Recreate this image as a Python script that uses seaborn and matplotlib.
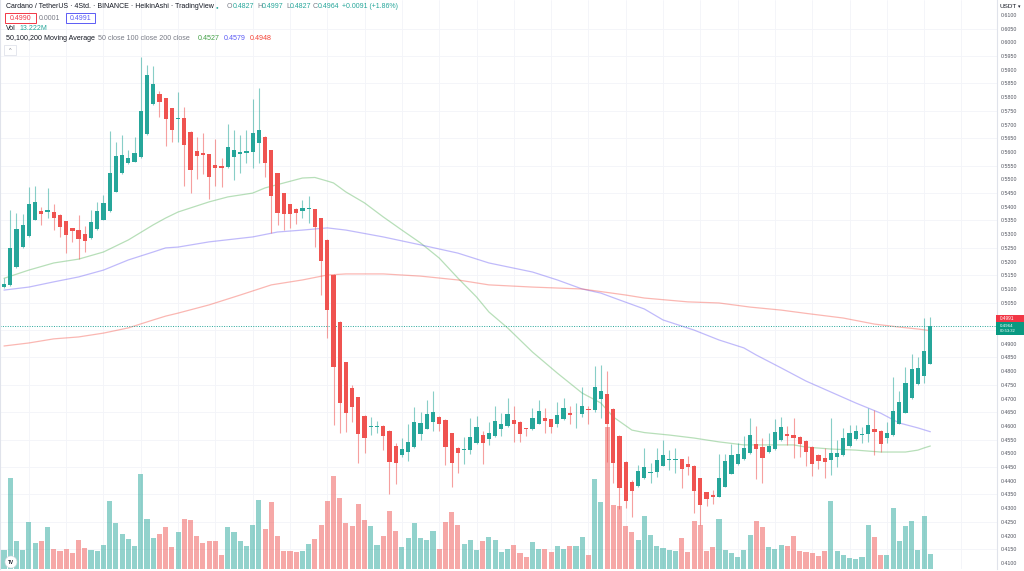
import numpy as np
import matplotlib
matplotlib.use("Agg")
import matplotlib.pyplot as plt
import seaborn as sns
from matplotlib.patches import Rectangle, Ellipse

# ── DATA (Heikin Ashi 4h candles, ADA/USDT) ─────────────────
opens = [0.5106, 0.5114, 0.5181, 0.5252, 0.5293, 0.5352, 0.5384, 0.5380, 0.5382, 0.5370,
         0.5347, 0.5321, 0.5315, 0.5299, 0.5285, 0.5319, 0.5352, 0.5384, 0.5455, 0.5522,
         0.5558, 0.5564, 0.5580, 0.5665, 0.5774, 0.5810, 0.5796, 0.5759, 0.5720, 0.5723,
         0.5674, 0.5605, 0.5595, 0.5592, 0.5551, 0.5549, 0.5544, 0.5580, 0.5594, 0.5597,
         0.5601, 0.5634, 0.5656, 0.5607, 0.5522, 0.5449, 0.5410, 0.5392, 0.5386, 0.5391,
         0.5391, 0.5358, 0.5279, 0.5151, 0.4981, 0.4832, 0.4740, 0.4704, 0.4637, 0.4596,
         0.4597, 0.4600, 0.4582, 0.4527, 0.4494, 0.4506, 0.4522, 0.4569, 0.4590, 0.4616,
         0.4634, 0.4622, 0.4573, 0.4521, 0.4511, 0.4512, 0.4537, 0.4567, 0.4551, 0.4563,
         0.4589, 0.4600, 0.4622, 0.4616, 0.4592, 0.4589, 0.4609, 0.4631, 0.4624, 0.4609,
         0.4625, 0.4646, 0.4642, 0.4644, 0.4661, 0.4658, 0.4698, 0.4715, 0.4662, 0.4564,
         0.4470, 0.4397, 0.4381, 0.4409, 0.4429, 0.4433, 0.4455, 0.4476, 0.4477, 0.4478,
         0.4460, 0.4455, 0.4409, 0.4358, 0.4348, 0.4342, 0.4378, 0.4425, 0.4460, 0.4479,
         0.4500, 0.4533, 0.4524, 0.4504, 0.4516, 0.4549, 0.4569, 0.4567, 0.4561, 0.4546,
         0.4524, 0.4494, 0.4484, 0.4476, 0.4488, 0.4494, 0.4527, 0.4551, 0.4567, 0.4569,
         0.4588, 0.4583, 0.4558, 0.4567, 0.4609, 0.4648, 0.4701, 0.4753, 0.4782, 0.4827]
highs = [0.5139, 0.5388, 0.5376, 0.5373, 0.5473, 0.5476, 0.5398, 0.5470, 0.5412, 0.5372,
         0.5349, 0.5323, 0.5370, 0.5330, 0.5388, 0.5418, 0.5443, 0.5678, 0.5638, 0.5662,
         0.5607, 0.5653, 0.5948, 0.5917, 0.5914, 0.5824, 0.5798, 0.5761, 0.5820, 0.5765,
         0.5676, 0.5653, 0.5668, 0.5594, 0.5646, 0.5577, 0.5702, 0.5680, 0.5662, 0.5680,
         0.5792, 0.5832, 0.5658, 0.5609, 0.5524, 0.5451, 0.5412, 0.5394, 0.5425, 0.5439,
         0.5393, 0.5360, 0.5281, 0.5153, 0.4983, 0.4834, 0.4749, 0.4706, 0.4639, 0.4634,
         0.4619, 0.4602, 0.4584, 0.4537, 0.4557, 0.4607, 0.4670, 0.4652, 0.4695, 0.4729,
         0.4636, 0.4624, 0.4575, 0.4523, 0.4561, 0.4628, 0.4636, 0.4583, 0.4616, 0.4673,
         0.4648, 0.4701, 0.4673, 0.4618, 0.4594, 0.4667, 0.4695, 0.4664, 0.4626, 0.4689,
         0.4701, 0.4673, 0.4683, 0.4741, 0.4673, 0.4819, 0.4822, 0.4801, 0.4664, 0.4566,
         0.4472, 0.4403, 0.4457, 0.4518, 0.4464, 0.4518, 0.4549, 0.4512, 0.4518, 0.4480,
         0.4490, 0.4457, 0.4411, 0.4360, 0.4366, 0.4498, 0.4496, 0.4534, 0.4537, 0.4563,
         0.4631, 0.4600, 0.4555, 0.4575, 0.4624, 0.4634, 0.4600, 0.4631, 0.4563, 0.4548,
         0.4526, 0.4496, 0.4518, 0.4628, 0.4549, 0.4591, 0.4603, 0.4603, 0.4597, 0.4664,
         0.4658, 0.4585, 0.4616, 0.4780, 0.4729, 0.4816, 0.4863, 0.4853, 0.4995, 0.4997]
lows = [0.5102, 0.5110, 0.5178, 0.5250, 0.5291, 0.5350, 0.5333, 0.5358, 0.5315, 0.5291,
        0.5230, 0.5272, 0.5208, 0.5236, 0.5283, 0.5317, 0.5350, 0.5382, 0.5453, 0.5520,
        0.5556, 0.5562, 0.5578, 0.5663, 0.5772, 0.5729, 0.5622, 0.5638, 0.5638, 0.5476,
        0.5449, 0.5500, 0.5519, 0.5427, 0.5476, 0.5473, 0.5542, 0.5498, 0.5522, 0.5558,
        0.5540, 0.5561, 0.5507, 0.5305, 0.5333, 0.5315, 0.5321, 0.5337, 0.5358, 0.5342,
        0.5254, 0.5078, 0.4920, 0.4603, 0.4573, 0.4579, 0.4616, 0.4466, 0.4500, 0.4567,
        0.4573, 0.4512, 0.4352, 0.4388, 0.4488, 0.4473, 0.4520, 0.4549, 0.4588, 0.4583,
        0.4583, 0.4457, 0.4378, 0.4430, 0.4460, 0.4498, 0.4535, 0.4461, 0.4530, 0.4561,
        0.4564, 0.4598, 0.4543, 0.4543, 0.4563, 0.4587, 0.4607, 0.4573, 0.4573, 0.4597,
        0.4623, 0.4607, 0.4591, 0.4634, 0.4609, 0.4652, 0.4628, 0.4470, 0.4391, 0.4296,
        0.4299, 0.4269, 0.4379, 0.4407, 0.4391, 0.4415, 0.4453, 0.4439, 0.4427, 0.4372,
        0.4421, 0.4281, 0.4238, 0.4308, 0.4315, 0.4340, 0.4376, 0.4423, 0.4458, 0.4477,
        0.4498, 0.4406, 0.4391, 0.4502, 0.4514, 0.4547, 0.4530, 0.4485, 0.4488, 0.4454,
        0.4417, 0.4442, 0.4412, 0.4421, 0.4451, 0.4492, 0.4525, 0.4549, 0.4537, 0.4543,
        0.4494, 0.4506, 0.4539, 0.4565, 0.4607, 0.4646, 0.4699, 0.4751, 0.4758, 0.4827]
closes = [0.5120, 0.5248, 0.5318, 0.5333, 0.5412, 0.5417, 0.5373, 0.5388, 0.5358, 0.5325,
          0.5297, 0.5311, 0.5282, 0.5276, 0.5346, 0.5386, 0.5415, 0.5524, 0.5585, 0.5589,
          0.5577, 0.5595, 0.5751, 0.5881, 0.5848, 0.5783, 0.5720, 0.5682, 0.5725, 0.5625,
          0.5534, 0.5585, 0.5590, 0.5510, 0.5541, 0.5541, 0.5617, 0.5607, 0.5599, 0.5602,
          0.5668, 0.5682, 0.5558, 0.5439, 0.5376, 0.5373, 0.5373, 0.5376, 0.5394, 0.5393,
          0.5327, 0.5202, 0.5023, 0.4814, 0.4685, 0.4646, 0.4670, 0.4571, 0.4555, 0.4601,
          0.4600, 0.4564, 0.4470, 0.4464, 0.4516, 0.4540, 0.4616, 0.4612, 0.4642, 0.4652,
          0.4607, 0.4524, 0.4466, 0.4500, 0.4516, 0.4561, 0.4597, 0.4537, 0.4573, 0.4619,
          0.4609, 0.4644, 0.4609, 0.4571, 0.4589, 0.4628, 0.4655, 0.4618, 0.4597, 0.4640,
          0.4664, 0.4641, 0.4645, 0.4674, 0.4657, 0.4741, 0.4729, 0.4609, 0.4466, 0.4375,
          0.4327, 0.4364, 0.4437, 0.4451, 0.4433, 0.4476, 0.4494, 0.4479, 0.4481, 0.4442,
          0.4449, 0.4364, 0.4311, 0.4333, 0.4340, 0.4412, 0.4473, 0.4494, 0.4498, 0.4518,
          0.4567, 0.4515, 0.4482, 0.4527, 0.4577, 0.4595, 0.4563, 0.4557, 0.4533, 0.4506,
          0.4461, 0.4473, 0.4467, 0.4500, 0.4503, 0.4558, 0.4575, 0.4583, 0.4572, 0.4605,
          0.4579, 0.4534, 0.4575, 0.4655, 0.4689, 0.4756, 0.4807, 0.4813, 0.4875, 0.4964]
volume_m = [16.7, 78.5, 24.4, 16.1, 40.3, 22.4, 24.4, 36.2, 17.5, 15.2,
            17.5, 13.8, 24.7, 18.1, 16.7, 15.2, 21.0, 58.4, 39.7, 30.5,
            25.9, 19.6, 82.2, 43.1, 26.7, 30.5, 36.2, 19.0, 31.6, 43.4,
            42.6, 28.2, 22.4, 23.9, 23.9, 12.4, 36.2, 31.6, 23.9, 19.6,
            38.2, 59.8, 34.8, 57.8, 28.8, 15.8, 15.8, 14.7, 15.8, 21.6,
            25.9, 38.2, 58.4, 79.9, 61.2, 39.7, 37.4, 56.4, 42.6, 36.8,
            21.0, 28.8, 49.7, 33.1, 19.0, 26.7, 39.7, 26.7, 24.7, 32.5,
            17.5, 40.3, 48.9, 37.7, 21.6, 24.7, 16.7, 23.9, 27.3, 24.7,
            14.4, 17.5, 21.0, 13.8, 10.4, 23.0, 17.5, 17.5, 14.7, 20.1,
            17.3, 20.1, 20.1, 27.6, 12.4, 77.9, 57.8, 122.2, 55.5, 54.1,
            36.8, 31.6, 25.3, 45.4, 29.6, 20.1, 18.1, 16.1, 15.2, 26.7,
            14.4, 41.1, 38.2, 15.2, 18.7, 43.1, 16.1, 13.8, 10.4, 16.7,
            29.0, 41.7, 36.2, 19.0, 17.5, 21.0, 19.6, 28.2, 15.2, 14.4,
            13.8, 11.5, 15.2, 58.4, 15.8, 12.4, 9.5, 8.6, 10.1, 37.7,
            27.6, 12.4, 12.4, 52.3, 23.9, 37.4, 41.1, 16.1, 46.0, 13.222]

# moving averages (candle index -> value)
ma50_idx = [0, 4, 8, 12, 16, 20, 24, 26, 28, 33, 36, 40, 42, 45, 48, 50, 52, 53, 55, 58,
            61, 64, 67, 70, 73, 76, 78, 81, 85, 89, 93, 96, 98, 101, 103, 107, 111, 115,
            119, 123, 127, 129, 133, 137, 141, 145, 147, 148, 149]
ma50 = [0.5139, 0.5169, 0.5195, 0.5209, 0.5235, 0.5279, 0.5334, 0.5359, 0.5381, 0.5418,
        0.5436, 0.5450, 0.5469, 0.5487, 0.5505, 0.5507, 0.5494, 0.5487, 0.5454, 0.5414,
        0.5363, 0.5315, 0.5268, 0.5213, 0.5140, 0.5071, 0.5016, 0.4958, 0.4870, 0.4793,
        0.4720, 0.4684, 0.4633, 0.4585, 0.4576, 0.4567, 0.4556, 0.4542, 0.4531, 0.4531,
        0.4531, 0.4523, 0.4516, 0.4512, 0.4505, 0.4505, 0.4512, 0.4520, 0.4527]
ma100_idx = [0, 4, 8, 12, 16, 20, 24, 26, 28, 33, 40, 44, 48, 52, 55, 61, 67, 73, 78, 85,
             89, 93, 96, 99, 103, 106, 111, 115, 119, 121, 125, 129, 133, 137, 141, 144, 147, 149]
ma100 = [0.5096, 0.5107, 0.5126, 0.5144, 0.5169, 0.5206, 0.5235, 0.5250, 0.5253, 0.5272,
         0.5290, 0.5308, 0.5315, 0.5323, 0.5315, 0.5290, 0.5261, 0.5231, 0.5195, 0.5162,
         0.5133, 0.5100, 0.5085, 0.5060, 0.5027, 0.4987, 0.4950, 0.4914, 0.4885, 0.4859,
         0.4812, 0.4764, 0.4724, 0.4684, 0.4647, 0.4611, 0.4593, 0.4579]
ma200_idx = [0, 4, 8, 12, 16, 20, 24, 26, 28, 33, 38, 43, 48, 52, 55, 61, 67, 73, 78, 85,
             93, 100, 103, 110, 115, 120, 125, 129, 135, 140, 144, 147, 149]
ma200 = [0.4892, 0.4903, 0.4918, 0.4925, 0.4939, 0.4958, 0.4987, 0.5001, 0.5012, 0.5042,
         0.5078, 0.5115, 0.5133, 0.5151, 0.5155, 0.5155, 0.5147, 0.5133, 0.5115, 0.5107,
         0.5100, 0.5078, 0.5067, 0.5053, 0.5049, 0.5034, 0.5023, 0.5011, 0.4994, 0.4972,
         0.4961, 0.4954, 0.4948]

last_price = 0.4964
ohlc_labels = ["O", "H", "L", "C"]
ohlc_values = ["0.4827", "0.4997", "0.4827", "0.4964"]
all_ticks = np.round(np.arange(0.41, 0.6101, 0.005), 4)
# 0.5000 and 0.4950 sit under the red / teal price boxes
price_ticks = all_ticks[(np.abs(all_ticks - 0.495) > 1e-6) & (np.abs(all_ticks - 0.5) > 1e-6)]
grid_prices = np.round(np.arange(0.415, 0.6101, 0.01), 4)
grid_candles = np.arange(4, 160, 6)

# ── STYLE ───────────────────────────────────────────────────
sns.set_style("white")
plt.rcParams['font.family'] = ['Liberation Sans', 'DejaVu Sans']

UP, DOWN = '#26a69a', '#ef5350'
DARK, GREY = '#131722', '#787b86'
W, H = 1024, 571
P_TOP, P_BOT = 0.61547, 0.40781
X_LO, X_HI = -0.643, 159.72
V_TOP = 490.7
FS = 5.0

fig = plt.figure(figsize=(W / 100, H / 100), dpi=100)
fig.patch.set_facecolor('white')
rect = [0, 2 / H, 997 / W, 569 / H]

# volume pane (bottom layer) + grid
ax_vol = fig.add_axes(rect)
ax_vol.set_xlim(X_LO, X_HI)
ax_vol.set_ylim(0, V_TOP)
ax_vol.set_yticks((grid_prices - P_BOT) / (P_TOP - P_BOT) * V_TOP)
ax_vol.set_xticks(grid_candles)
ax_vol.grid(True, color='#f3f4f9', lw=0.6)
ax_vol.tick_params(length=0, labelbottom=False, labelleft=False)
for s in ax_vol.spines.values():
    s.set_visible(False)

o = np.array(opens); c = np.array(closes)
idx = np.arange(len(o))
up = c >= o
cols = np.where(up, UP, DOWN)
ax_vol.bar(idx, volume_m, width=0.82, color=cols, alpha=0.5, lw=0)

# price pane
ax = fig.add_axes(rect)
ax.patch.set_alpha(0)
ax.set_xlim(X_LO, X_HI)
ax.set_ylim(P_BOT, P_TOP)

sns.lineplot(x=ma50_idx, y=ma50, ax=ax, color='#4caf50', lw=0.9, alpha=0.4)
sns.lineplot(x=ma100_idx, y=ma100, ax=ax, color='#6a5cf5', lw=0.9, alpha=0.42)
sns.lineplot(x=ma200_idx, y=ma200, ax=ax, color='#f44336', lw=0.9, alpha=0.38)

ax.vlines(idx, lows, highs, colors=cols, lw=0.8, alpha=0.55, zorder=3)
body_lo = np.minimum(o, c)
body_h = np.maximum(np.abs(c - o), 0.0003)
ax.bar(idx, body_h, bottom=body_lo, width=0.68, color=cols, lw=0, zorder=4)

ax.axhline(last_price, color=UP, ls=(0, (1, 1.5)), lw=0.7, zorder=2)

ax.set_xticks([])
ax.yaxis.tick_right()
ax.set_yticks(price_ticks)
ax.set_yticklabels([f"{t:.4f}" for t in price_ticks])
ax.tick_params(axis='y', length=0, pad=3, labelsize=3.8, labelcolor='#50535e')
ax.set_xlabel(''); ax.set_ylabel('')
for k in ['top', 'bottom']:
    ax.spines[k].set_visible(False)
ax.spines['right'].set_color('#e0e3eb')
ax.spines['right'].set_linewidth(0.8)
ax.spines['left'].set_color('#e0e3eb')
ax.spines['left'].set_linewidth(0.8)


# ── HEADER TEXT ─────────────────────────────────────────────
def fx(x):
    return x / W


def fy(y):
    return 1 - y / H


rend = fig.canvas.get_renderer()


def seg_text(x, y, parts, size=FS, gap=0.0):
    for s, colr in parts:
        t = fig.text(fx(x), fy(y), s, color=colr, fontsize=size, va='center', ha='left')
        x += t.get_window_extent(renderer=rend).width + gap
    return x


seg_text(6, 7, [("Cardano / TetherUS · 4Std. · BINANCE · HeikinAshi · TradingView", DARK)])
fig.text(fx(215.5), fy(7), "●", color=UP, fontsize=3.2, va='center', ha='left')
for xx, lab, val in zip([227, 257, 286, 313], ohlc_labels, ohlc_values):
    seg_text(xx, 7, [(lab, GREY), (val, UP)])
seg_text(342, 7, [("+0.0091 (+1.86%)", UP)])

# bid / spread / ask boxes
fig.add_artist(Rectangle((fx(5), fy(22.5)), 31 / W, 9 / H, transform=fig.transFigure,
                         fill=False, ec='#f23645', lw=0.7))
fig.text(fx(20.5), fy(18), "0.4990", color='#f23645', fontsize=FS, ha='center', va='center')
fig.text(fx(39), fy(18), "0.0001", color=GREY, fontsize=FS, ha='left', va='center')
fig.add_artist(Rectangle((fx(66), fy(22.5)), 29 / W, 9 / H, transform=fig.transFigure,
                         fill=False, ec='#5b5bf5', lw=0.7))
fig.text(fx(80.5), fy(18), "0.4991", color='#5b5bf5', fontsize=FS, ha='center', va='center')

seg_text(6, 28, [("Vol", DARK)])
seg_text(19, 28, [("13.222M", UP)])

seg_text(6, 38.5, [("50,100,200 Moving Average", DARK)], size=5.1)
seg_text(98, 38.5, [("50 close 100 close 200 close", GREY)], size=5.1)
seg_text(198, 38.5, [("0.4527", '#43a047')], size=5.1)
seg_text(224, 38.5, [("0.4579", '#5b5bf5')], size=5.1)
seg_text(250, 38.5, [("0.4948", '#f44336')], size=5.1)

# collapse button
fig.add_artist(Rectangle((fx(4), fy(55)), 12 / W, 10 / H, transform=fig.transFigure,
                         fill=True, fc='white', ec='#e0e3eb', lw=0.6))
fig.text(fx(10), fy(50.5), "^", color=GREY, fontsize=4, ha='center', va='center')

# price scale header + labels
fig.text(fx(999), fy(7), "USDT", color=DARK, fontsize=4.6, ha='left', va='center')
fig.text(fx(1018), fy(7), "▾", color=DARK, fontsize=3.5, ha='left', va='center')

fig.add_artist(Rectangle((fx(996), fy(322)), 28 / W, 7 / H, transform=fig.transFigure,
                         fc='#f23645', ec='none', zorder=5))
fig.text(fx(999.5), fy(318.3), "0.4991", color='white', fontsize=3.4, ha='left', va='center', zorder=6)
fig.add_artist(Rectangle((fx(996), fy(334.5)), 28 / W, 12.5 / H, transform=fig.transFigure,
                         fc='#089981', ec='none', zorder=5))
fig.text(fx(999.5), fy(325.8), "0.4964", color='white', fontsize=3.2, ha='left', va='center', zorder=6)
fig.text(fx(999.5), fy(331.3), "00:53:32", color='white', fontsize=3.0, ha='left', va='center', zorder=6)

# TradingView logo
fig.add_artist(Ellipse((fx(11), fy(562)), 12 / W, 12 / H, transform=fig.transFigure,
                       fc='white', ec='#d1d4dc', lw=0.4, zorder=5))
fig.text(fx(11), fy(562), "TV", color=DARK, fontsize=3.4, fontweight='bold',
         ha='center', va='center', zorder=6)

plt.savefig("out.png", dpi=100)
